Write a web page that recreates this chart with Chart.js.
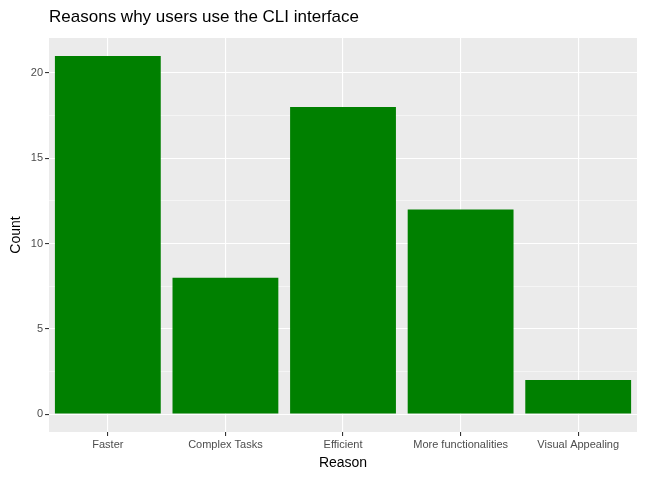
<!DOCTYPE html>
<html>
<head>
<meta charset="utf-8">
<script src="https://cdn.jsdelivr.net/npm/chart.js@4"></script>
<style>
  html, body { margin: 0; padding: 0; background: #fff; }
  #wrap { width: 647px; height: 480px; }
</style>
</head>
<body>
<div id="wrap"><canvas id="chart"></canvas></div>
<script>
const reasons = ['Faster', 'Complex Tasks', 'Efficient', 'More functionalities', 'Visual Appealing'];
const counts = [21, 8, 18, 12, 2];
const yTicks = [0, 2.5, 5, 7.5, 10, 12.5, 15, 17.5, 20, 22.5];
const chartTitle = 'Reasons why users use the CLI interface';

const isMajor = v => v % 5 === 0;

// gray panel + left-aligned title, ggplot style
const panelPlugin = {
    id: 'panel',
    beforeDraw(chart) {
        const { ctx, chartArea: a } = chart;
        ctx.save();
        ctx.fillStyle = '#ebebeb';
        ctx.fillRect(a.left, a.top, a.right - a.left, a.bottom - a.top);
        ctx.fillStyle = '#000';
        ctx.font = '17px "Liberation Sans", Arial, sans-serif';
        ctx.textBaseline = 'middle';
        ctx.fillText(chartTitle, a.left, 17);
        ctx.restore();
    }
};

new Chart(document.getElementById('chart'), {
    type: 'bar',
    data: {
        labels: reasons,
        datasets: [{
            data: counts,
            backgroundColor: '#008000',
            barPercentage: 0.9,
            categoryPercentage: 1.0
        }]
    },
    options: {
        responsive: true,
        maintainAspectRatio: false,
        animation: false,
        layout: { padding: { top: 38, right: 10, left: 4, bottom: 4 } },
        plugins: { legend: { display: false }, tooltip: { enabled: false } },
        scales: {
            x: {
                offset: true,
                grid: { offset: false, color: '#fff', lineWidth: 1.1, tickColor: '#333', tickLength: 4 },
                border: { display: false },
                ticks: { color: '#4d4d4d', font: { size: 11, family: 'Liberation Sans' }, padding: 2, maxRotation: 0 },
                title: { display: true, text: 'Reason', color: '#000', font: { size: 14, family: 'Liberation Sans' }, padding: { top: 2 } }
            },
            y: {
                min: -1.05,
                max: 22.05,
                afterBuildTicks(scale) {
                    scale.ticks = yTicks.map(v => ({ value: v }));
                },
                grid: {
                    color: '#fff',
                    lineWidth: c => (isMajor(c.tick.value) ? 1.1 : 0.5),
                    tickColor: c => (isMajor(c.tick.value) ? '#333' : 'rgba(0,0,0,0)'),
                    tickLength: 4
                },
                border: { display: false },
                ticks: {
                    color: '#4d4d4d',
                    font: { size: 11, family: 'Liberation Sans' },
                    padding: 2,
                    callback: v => (isMajor(v) ? String(v) : '')
                },
                title: { display: true, text: 'Count', color: '#000', font: { size: 14, family: 'Liberation Sans' } }
            }
        }
    },
    plugins: [panelPlugin]
});
</script>
</body>
</html>
